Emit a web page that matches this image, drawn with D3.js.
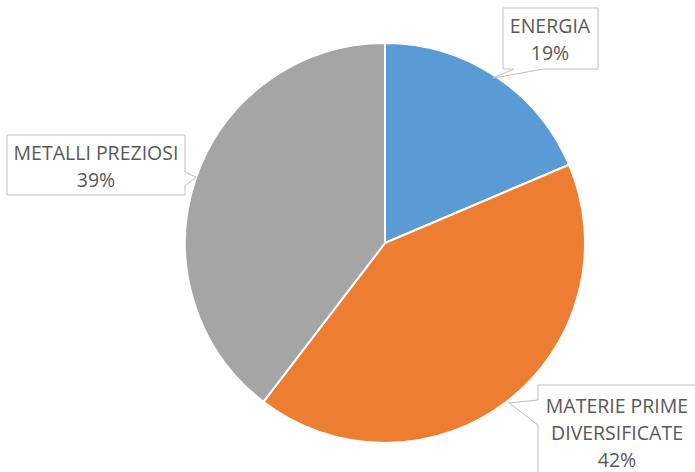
<!DOCTYPE html>
<html><head><meta charset="utf-8">
<script src="https://cdn.jsdelivr.net/npm/d3@7"></script>
<style>body{margin:0;background:#fff;} svg{display:block;}</style>
</head><body>
<svg id="chart" width="695" height="472"></svg>
<script>
const categories = ["ENERGIA", "MATERIE PRIME DIVERSIFICATE", "METALLI PREZIOSI"];
const values = [18.6, 41.8, 39.6];
const percentLabels = ["19%", "42%", "39%"];
const colors = ["#5B9BD5", "#ED7D31", "#A5A5A5"];

const svg = d3.select("#chart");
const cx = 385, cy = 243, r = 200;
const data = categories.map((c, i) => ({cat: c, value: values[i], color: colors[i], pct: percentLabels[i]}));
const pie = d3.pie().value(d => d.value).sort(null);
const arc = d3.arc().innerRadius(0).outerRadius(r);
const g = svg.append("g").attr("transform", `translate(${cx},${cy})`);
g.selectAll("path").data(pie(data)).join("path")
  .attr("d", arc).attr("fill", d => d.data.color)
  .attr("stroke", "#fff").attr("stroke-width", 2).attr("stroke-linejoin", "round");

// callouts
const callouts = [
  {box: [503, 8, 598, 69], tail: {side: "bottom", a: 514, b: 544, tip: [493, 78]}, lines: ["ENERGIA", "19%"], cxText: 550, y0: 33},
  {box: [7, 135, 185, 195], tail: {side: "right", a: 172, b: 186, tip: [196, 177]}, lines: ["METALLI PREZIOSI", "39%"], cxText: 96, y0: 160},
  {box: [538, 385, 720, 480], tail: {side: "left", a: 400, b: 425, tip: [509, 403]}, lines: ["MATERIE PRIME", "DIVERSIFICATE", "42%"], cxText: 617, y0: 413}
];
function calloutPath(c) {
  const [x0, y0, x1, y1] = c.box, t = c.tail;
  if (t.side === "bottom") return `M${x0},${y0}H${x1}V${y1}H${t.b}L${t.tip[0]},${t.tip[1]}L${t.a},${y1}H${x0}Z`;
  if (t.side === "right") return `M${x0},${y0}H${x1}V${t.a}L${t.tip[0]},${t.tip[1]}L${x1},${t.b}V${y1}H${x0}Z`;
  return `M${x0},${y0}H${x1}V${y1}H${x0}V${t.b}L${t.tip[0]},${t.tip[1]}L${x0},${t.a}Z`;
}
callouts.forEach((c, i) => {
  svg.append("path").attr("d", calloutPath(c)).attr("fill", "#fff").attr("stroke", "#BFBFBF").attr("stroke-width", 1);
  c.lines.forEach((l, j) => {
    svg.append("text").attr("x", c.cxText).attr("y", c.y0 + j * 27).attr("text-anchor", "middle")
      .attr("font-family", "'Open Sans', sans-serif").attr("font-size", 19.5).attr("fill", "#595959").text(l);
  });
});
</script>
</body></html>
